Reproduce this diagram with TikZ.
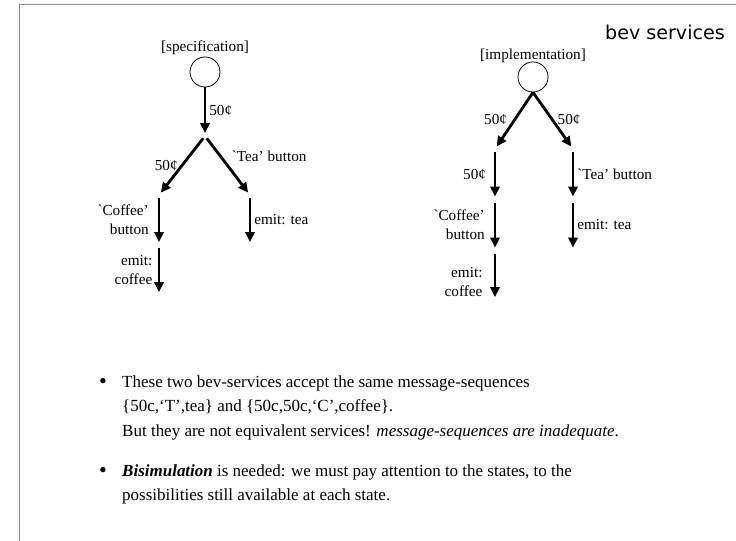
\documentclass[tikz,border=0pt]{standalone}
\usepackage{fontspec}
\setmainfont{Liberation Serif}[Ligatures=TeXOff]
\newfontfamily\titlefont{DejaVu Sans}
\usetikzlibrary{
    arrows.meta,
    positioning
}
\tikzset{
    % Colors
    frame color/.style={black!45},
    %
    % Nodes and points
    invisible point/.style={circle,inner sep=0pt,outer sep=0pt,minimum size=0.18cm},
    start state/.style={circle,draw,line width=0.7pt,inner sep=0pt,minimum size=0.9cm},
    caption/.style={inner sep=1pt},
    lbl/.style={inner sep=2.5pt},
    lbl2/.style={lbl,align=right,font=\fontsize{13}{16}\selectfont},
    %
    % Arrows
    arrow tip/.tip={Triangle[length=8.5pt,width=8pt]},
    arr/.style={-{arrow tip},line width=2.4pt},
    %
    % Slide
    slide frame/.style={frame color,line width=1.1pt},
    bullet text/.style={inner sep=0pt,align=left,font=\fontsize{14.5}{21}\selectfont},
    bullet mark/.style={inner sep=0pt,font=\fontsize{19}{21}\selectfont}
}
\tikzstyle{every node}=[font=\fontsize{13}{16}\selectfont]

\begin{document}
\begin{tikzpicture}[x=0.03cm,y=-0.03cm]
    \useasboundingbox (0,0) rectangle (736,541);
    \draw[slide frame] (736,4.5) -- (19.5,4.5) -- (19.5,541);
    \node[anchor=base east,inner sep=0pt,font=\titlefont\fontsize{16.3}{18}\selectfont] (title) at (725,40) {bev services};
    % specification
    \node[start state] (spec0) at (205,72) {};
    \node[caption,above=0pt of spec0] (speccap) {[specification]};
    \node[invisible point] (spec1) at (205,136) {};
    \node[invisible point] (spec2) at (159,195) {};
    \node[invisible point] (spec3) at (250,195) {};
    \node[invisible point] (spec4) at (159,245) {};
    \node[invisible point] (spec5) at (250,245) {};
    \node[invisible point] (spec6) at (159,295) {};
    \draw[arr] (spec0) -- (spec1) node[lbl,midway,right] {50¢};
    \draw[arr] (spec1) -- (spec2) node[lbl,midway,left] {50¢};
    \draw[arr] (spec1) -- (spec3) node[lbl,midway,above right] {`Tea’ button};
    \draw[arr] (spec2) -- (spec4) node[lbl2,midway,left=5pt] {`Coffee’\\button};
    \draw[arr] (spec3) -- (spec5) node[lbl,midway,right] {emit: tea};
    \draw[arr] (spec4) -- (spec6) node[lbl2,midway,left=2pt] {emit:\\coffee};
    % implementation
    \node[start state] (impl0) at (533,77) {};
    \node[caption,above=-2pt of impl0] (implcap) {[implementation]};
    \node[invisible point] (impl1) at (495,149) {};
    \node[invisible point] (impl2) at (573,149) {};
    \node[invisible point] (impl3) at (495,199.5) {};
    \node[invisible point] (impl4) at (573,199.5) {};
    \node[invisible point] (impl5) at (495,250.5) {};
    \node[invisible point] (impl6) at (573,250.5) {};
    \node[invisible point] (impl7) at (495,300) {};
    \draw[arr] (impl0.south) -- (impl1) node[lbl,midway,left=3pt] {50¢};
    \draw[arr] (impl0.south) -- (impl2) node[lbl,midway,right=1pt] {50¢};
    \draw[arr] (impl1) -- (impl3) node[lbl,midway,left=4pt] {50¢};
    \draw[arr] (impl2) -- (impl4) node[lbl,midway,right] {`Tea’ button};
    \draw[arr] (impl3) -- (impl5) node[lbl2,midway,left=5pt] {`Coffee’\\button};
    \draw[arr] (impl4) -- (impl6) node[lbl,midway,right] {emit: tea};
    \draw[arr] (impl5) -- (impl7) node[lbl2,midway,left=7pt,yshift=-6pt] {emit:\\coffee};
    % remarks
    \node[bullet mark] (dot1) at (103,383) {•};
    \node[bullet text,anchor=north west] (note1) at (122,375) {These two bev-services accept the same message-sequences\\
        \{50c,‘T’,tea\} and \{50c,50c,‘C’,coffee\}.\\
        But they are not equivalent services! \textit{message-sequences are inadequate}.};
    \node[bullet mark] (dot2) at (103,472) {•};
    \node[bullet text,anchor=north west] (note2) at (122,464) {\textbf{\textit{Bisimulation}} is needed: we must pay attention to the states, to the\\
        possibilities still available at each state.};
\end{tikzpicture}
\end{document}
